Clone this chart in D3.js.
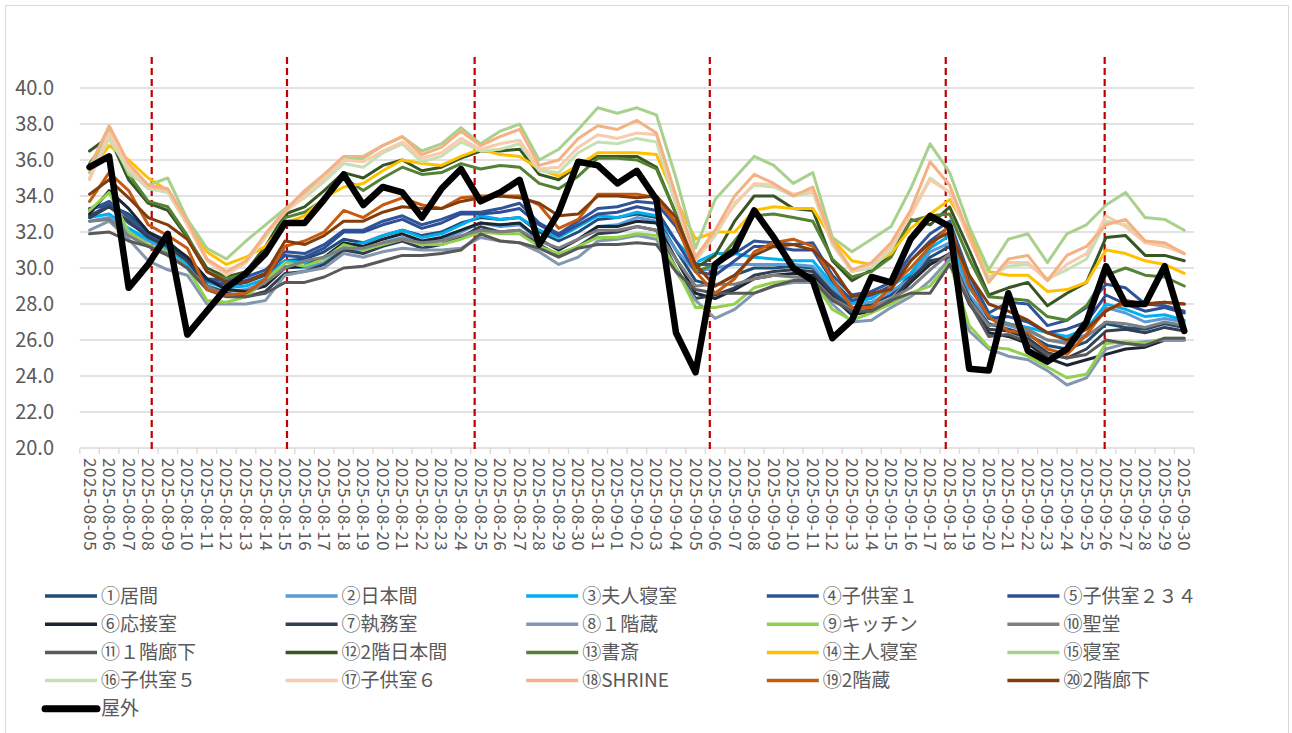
<!DOCTYPE html>
<html>
<head>
<meta charset="utf-8">
<script src="https://cdn.jsdelivr.net/npm/d3@7"></script>
<style>
  body { margin: 0; background: #fff; }
  svg { display: block; font-family: "Noto Sans CJK JP", "Noto Sans", sans-serif; }
</style>
</head>
<body>
<svg id="chart"></svg>
<script>
// categories
const dates = [
  '2025-08-05','2025-08-06','2025-08-07','2025-08-08','2025-08-09','2025-08-10','2025-08-11','2025-08-12',
  '2025-08-13','2025-08-14','2025-08-15','2025-08-16','2025-08-17','2025-08-18','2025-08-19','2025-08-20',
  '2025-08-21','2025-08-22','2025-08-23','2025-08-24','2025-08-25','2025-08-26','2025-08-27','2025-08-28',
  '2025-08-29','2025-08-30','2025-08-31','2025-09-01','2025-09-02','2025-09-03','2025-09-04','2025-09-05',
  '2025-09-06','2025-09-07','2025-09-08','2025-09-09','2025-09-10','2025-09-11','2025-09-12','2025-09-13',
  '2025-09-14','2025-09-15','2025-09-16','2025-09-17','2025-09-18','2025-09-19','2025-09-20','2025-09-21',
  '2025-09-22','2025-09-23','2025-09-24','2025-09-25','2025-09-26','2025-09-27','2025-09-28','2025-09-29',
  '2025-09-30'
];

const seriesNames = [
  '①居間', '②日本間', '③夫人寝室', '④子供室１', '⑤子供室２３４',
  '⑥応接室', '⑦執務室', '⑧１階蔵', '⑨キッチン', '⑩聖堂',
  '⑪１階廊下', '⑫2階日本間', '⑬書斎', '⑭主人寝室', '⑮寝室',
  '⑯子供室５', '⑰子供室６', '⑱SHRINE', '⑲2階蔵', '⑳2階廊下',
  '屋外'
];

// room temperatures (deg C), one value per date
const s01 = [33.3,33.5,33.0,32.0,31.5,30.5,29.3,29.0,29.2,29.6,30.4, 30.5,30.9,31.6,31.4,31.8,32.1,31.8,32.0,32.5,
  32.8,32.7,32.8,32.0,31.5,32.0,32.7,32.8,33.0,32.8, 31.0,29.3,29.0,29.6,30.0,30.0,30.1,30.0,28.8,27.7,
  28.0,28.5,29.6,30.6,31.2,28.3,26.9,26.6,26.3,25.7, 25.5,25.9,26.9,26.7,26.6,26.9,26.7];
const s02 = [32.6,32.8,32.0,31.5,31.0,30.2,29.0,28.7,28.8,29.2,30.1, 30.0,30.3,31.0,31.0,31.4,31.7,31.4,31.6,32.0,
  32.5,32.3,32.4,31.6,31.0,31.6,32.3,32.4,32.8,32.6, 31.0,29.8,30.0,30.2,30.2,30.2,30.2,30.1,28.9,28.0,
  28.1,28.7,29.4,30.9,31.4,28.5,27.2,26.8,26.5,26.0, 25.9,26.3,27.8,27.5,27.0,27.2,27.0];
const s03 = [32.8,33.0,32.2,31.6,31.1,30.2,29.2,28.9,29.0,29.4,30.4, 30.3,30.5,31.2,31.4,31.8,32.1,31.7,31.9,32.4,
  32.9,32.7,32.8,32.1,31.7,32.3,32.9,32.8,33.1,32.9, 31.5,30.3,30.8,30.8,30.6,30.5,30.4,30.4,29.1,28.1,
  28.3,29.0,29.7,31.1,31.8,28.9,27.4,26.9,26.7,26.4, 26.2,26.6,28.0,27.7,27.3,27.4,27.1];
const s04 = [33.2,33.7,32.8,31.9,31.4,30.6,29.4,29.3,29.5,29.9,30.9, 30.8,31.3,32.1,32.1,32.6,32.9,32.4,32.7,33.1,
  33.1,33.3,33.6,32.5,31.9,32.6,33.3,33.4,33.7,33.6, 32.3,30.2,30.2,30.8,31.5,31.4,31.3,31.4,29.6,28.5,
  28.7,29.2,30.7,31.9,32.6,29.6,27.5,28.1,28.0,26.8, 27.1,27.8,29.1,28.9,28.0,27.9,27.6];
const s05 = [32.9,33.5,32.5,31.8,31.3,30.5,29.3,29.1,29.3,29.7,30.7, 30.6,31.1,32.0,32.0,32.4,32.7,32.2,32.5,33.0,
  33.0,33.1,33.3,32.4,31.8,32.4,33.0,33.1,33.4,33.2, 31.5,29.8,29.6,30.4,31.2,31.2,31.0,31.0,29.3,28.2,
  28.5,29.0,30.4,31.5,32.3,29.2,27.2,27.3,27.0,26.4, 26.6,27.0,28.5,28.0,27.6,27.8,27.5];
const s06 = [33.0,34.3,33.3,32.0,31.4,30.6,29.4,28.8,28.7,29.0,30.0, 30.1,30.6,31.4,31.2,31.6,31.9,31.5,31.7,32.1,
  32.5,32.4,32.5,31.6,31.0,31.6,32.3,32.3,32.6,32.5, 30.5,28.6,28.3,28.8,29.4,29.6,29.7,29.6,28.4,27.4,
  27.6,28.1,29.2,30.2,30.8,28.3,26.4,26.2,25.8,25.0, 24.6,24.9,25.2,25.5,25.6,26.0,26.0];
const s07 = [32.8,33.4,32.6,31.7,31.2,30.4,29.0,28.6,28.4,28.7,29.7, 29.8,30.2,31.0,30.8,31.2,31.5,31.1,31.3,31.7,
  32.3,32.0,32.1,31.3,30.7,31.2,31.9,32.0,32.3,32.1, 30.0,28.3,28.5,28.9,29.6,29.8,29.9,29.8,28.6,27.5,
  27.7,28.2,29.4,30.4,30.6,28.0,26.6,26.5,26.1,25.3, 25.0,25.5,26.5,26.6,26.4,26.7,26.5];
const s08 = [32.1,32.6,31.6,30.4,29.9,29.6,28.0,28.0,28.0,28.2,29.6, 29.8,30.0,30.8,30.6,30.9,31.1,31.0,31.0,31.1,
  31.7,31.5,31.4,30.9,30.2,30.6,31.5,31.6,31.8,31.6, 29.8,28.2,27.2,27.7,28.6,29.0,29.2,29.2,28.0,27.0,
  27.1,27.8,28.4,29.3,30.5,26.5,25.5,25.1,24.9,24.3, 23.5,23.9,25.5,25.8,25.9,26.0,26.0];
const s09 = [33.2,34.2,32.0,31.3,30.9,30.0,28.2,28.1,28.4,29.3,30.3, 30.1,30.5,31.3,31.0,31.3,31.6,31.3,31.3,31.6,
  32.0,31.9,31.9,31.2,30.8,31.2,31.7,31.7,31.9,31.8, 30.0,27.8,27.8,28.0,28.9,29.2,29.3,29.3,27.7,27.1,
  27.5,28.0,28.6,29.0,30.3,26.8,25.6,25.5,25.1,24.5, 23.9,24.1,25.8,25.9,25.8,26.1,26.1];
const s10 = [32.6,32.7,31.8,31.2,30.8,30.0,29.0,28.5,28.6,29.2,30.0, 30.4,30.6,31.1,31.1,31.4,31.6,31.4,31.5,31.8,
  32.1,32.0,32.1,31.5,31.1,31.6,32.1,32.1,32.3,32.1, 30.5,29.0,29.1,29.1,29.4,29.6,29.5,29.4,28.3,27.7,
  27.8,28.3,28.9,29.9,30.8,28.2,26.8,26.9,26.6,26.0, 25.8,26.2,27.0,26.9,26.7,27.0,26.8];
const s11 = [31.9,32.0,31.5,31.2,30.7,30.0,28.8,28.4,28.4,28.6,29.2, 29.2,29.5,30.0,30.1,30.4,30.7,30.7,30.8,31.0,
  31.9,31.5,31.4,31.1,30.6,31.1,31.3,31.3,31.4,31.3, 29.8,28.8,28.6,28.6,28.6,29.0,29.3,29.3,28.2,27.6,
  27.6,28.2,28.6,28.6,30.2,28.1,26.2,26.3,25.9,25.2, 25.0,25.2,26.0,25.8,25.7,26.1,26.1];
const s12 = [36.5,37.3,34.9,33.6,33.2,31.7,30.0,29.5,29.8,31.2,33.0, 33.4,34.3,35.3,35.0,35.7,36.0,35.4,35.6,36.1,
  36.5,36.5,36.6,35.2,34.9,35.7,36.2,36.2,36.2,35.6, 33.0,30.0,30.7,32.6,34.0,34.0,33.3,33.2,30.4,29.3,
  29.9,30.7,32.7,32.4,33.4,31.0,28.5,28.9,29.2,27.9, 28.6,29.2,31.7,31.8,30.7,30.7,30.4];
const s13 = [35.8,37.3,35.2,33.7,33.4,31.8,29.8,29.4,29.7,31.0,32.8, 33.1,33.8,35.0,34.3,35.0,35.6,35.2,35.3,35.8,
  35.5,35.7,35.6,34.7,34.4,35.1,36.1,36.1,36.0,35.5, 33.0,29.8,30.2,31.5,32.9,33.0,32.8,32.6,30.5,29.5,
  29.8,30.6,32.6,32.9,33.0,30.5,28.4,28.3,28.2,27.3, 27.1,27.9,29.6,30.0,29.6,29.5,29.0];
const s14 = [35.3,36.8,36.0,35.0,34.3,32.6,30.9,30.2,30.6,31.2,32.5, 32.9,33.9,34.5,34.7,35.4,36.0,35.8,35.7,36.2,
  36.6,36.3,36.2,35.5,35.1,35.7,36.4,36.4,36.4,36.3, 33.8,31.6,32.0,32.0,33.2,33.4,33.3,33.3,31.6,30.4,
  30.2,30.8,32.2,33.0,33.8,32.0,29.8,29.6,29.6,28.7, 28.8,29.2,31.0,30.8,30.4,30.2,29.7];
const s15 = [35.3,37.6,35.2,34.6,35.0,32.7,31.1,30.5,31.5,32.4,33.3, 34.1,35.0,36.0,36.1,36.8,37.3,36.5,36.9,37.8,
  36.9,37.6,38.0,36.0,36.6,37.7,38.9,38.6,38.9,38.5, 35.0,31.1,33.8,35.0,36.2,35.7,34.7,35.3,31.7,30.9,
  31.6,32.3,34.4,36.9,35.3,32.3,29.9,31.6,31.9,30.3, 31.9,32.4,33.5,34.2,32.8,32.7,32.1];
const s16 = [35.0,37.2,35.4,34.4,34.2,32.4,30.5,29.7,30.3,31.7,33.2, 33.9,34.8,35.8,35.6,36.4,36.9,35.9,36.2,37.0,
  36.5,36.6,36.9,35.4,35.3,36.4,37.0,36.9,37.2,37.0, 33.5,30.4,31.8,33.6,34.6,34.5,34.0,34.2,31.3,29.8,
  30.0,31.0,33.0,35.0,34.2,31.7,29.5,30.1,30.2,29.4, 29.9,30.5,32.6,32.4,31.5,31.3,30.8];
const s17 = [34.9,37.5,35.6,34.5,34.3,32.4,30.4,29.6,30.3,31.8,33.1, 34.0,35.0,36.0,35.9,36.5,37.0,36.1,36.4,37.2,
  36.6,36.9,37.1,35.5,35.6,36.7,37.4,37.2,37.5,37.4, 33.8,30.4,32.0,33.5,34.7,34.6,34.1,34.3,31.4,29.8,
  30.2,31.2,32.9,34.9,34.2,31.6,29.3,30.3,30.3,29.3, 30.2,30.8,32.9,32.3,31.4,31.2,30.8];
const s18 = [35.6,37.9,35.8,34.6,34.4,32.6,30.5,29.8,30.4,31.9,33.2, 34.3,35.2,36.2,36.2,36.8,37.3,36.3,36.7,37.6,
  36.8,37.3,37.7,35.7,36.0,37.2,37.9,37.7,38.2,37.5, 34.0,30.6,32.1,34.0,35.2,34.7,34.0,34.5,31.5,29.9,
  30.3,31.4,33.2,35.9,34.6,31.8,29.2,30.5,30.7,29.3, 30.7,31.2,32.4,32.7,31.5,31.4,30.8];
const s19 = [33.7,35.3,34.3,32.4,31.8,31.1,28.8,28.5,28.6,29.4,31.2, 31.5,32.0,33.2,32.8,33.5,33.9,33.5,33.3,33.9,
  34.0,34.0,34.0,33.5,32.2,32.7,34.1,34.1,34.1,33.9, 32.5,29.8,28.6,29.4,30.9,31.4,31.6,31.2,29.4,27.8,
  27.8,29.0,30.0,31.2,32.4,29.0,27.3,26.5,26.4,25.5, 25.2,26.3,27.7,28.0,28.0,28.1,28.0];
const s20 = [34.1,34.9,33.9,32.8,32.4,31.6,29.8,29.2,29.2,29.7,31.5, 31.3,31.8,32.6,32.6,33.1,33.4,33.3,33.3,33.7,
  33.9,34.0,33.9,33.6,32.9,33.0,34.0,34.0,33.9,34.0, 32.8,30.2,29.0,29.6,30.7,31.2,31.3,31.0,30.0,28.4,
  28.6,28.8,30.4,31.4,32.0,29.6,28.0,27.6,27.1,26.4, 26.0,26.6,27.6,28.2,28.0,28.1,28.0];
const outdoor = [35.6,36.2,28.9,30.2,31.9,26.3,27.6,28.9,29.7,30.8,32.5, 32.5,33.8,35.2,33.5,34.5,34.2,32.8,34.4,35.5,
  33.7,34.2,34.9,31.3,33.1,35.9,35.7,34.7,35.4,33.8, 26.4,24.2,30.2,31.0,33.2,31.7,30.0,29.3,26.1,27.1,
  29.5,29.2,31.6,32.9,32.3,24.4,24.3,28.6,25.4,24.8, 25.5,27.0,30.1,28.0,28.0,30.1,26.5];

const yTicks = [20, 22, 24, 26, 28, 30, 32, 34, 36, 38, 40];
// red dashed period markers, as (fractional) category positions
const markerPos = [3.18, 10.1, 19.7, 31.73, 43.8, 51.93];

const seriesValues = [s01, s02, s03, s04, s05, s06, s07, s08, s09, s10,
  s11, s12, s13, s14, s15, s16, s17, s18, s19, s20, outdoor];

const seriesColors = [
  '#1F4E79', '#5B9BD5', '#00B0F0', '#2F5597', '#2E4F96',
  '#1C2533', '#333F50', '#8497B0', '#92D050', '#7F7F7F',
  '#595959', '#375623', '#548235', '#FFC000', '#A9D18E',
  '#C5E0B4', '#F8CBAD', '#F4B183', '#C55A11', '#843C0C',
  '#000000'
];

function drawChart() {
  const width = 1292, height = 733;
  const plot = {l: 79.8, r: 1194, t: 88, b: 448};
  const textColor = '#595959';
  const gridColor = '#D9D9D9';

  const svg = d3.select('#chart')
    .attr('width', width)
    .attr('height', height);

  svg.append('rect')
    .attr('x', 5.5).attr('y', 5.5)
    .attr('width', 1283).attr('height', 740)
    .attr('fill', '#fff')
    .attr('stroke', gridColor);

  const xScale = d3.scalePoint()
    .domain(dates)
    .range([plot.l, plot.r])
    .padding(0.5);
  const step = xScale.step();

  const yScale = d3.scaleLinear()
    .domain([20, 40])
    .range([plot.b, plot.t]);

  // gridlines
  svg.append('g')
    .selectAll('line')
    .data(yTicks)
    .enter()
    .append('line')
    .attr('x1', plot.l).attr('x2', plot.r)
    .attr('y1', d => yScale(d)).attr('y2', d => yScale(d))
    .attr('stroke', gridColor)
    .attr('stroke-width', 1.3);

  // y axis labels
  svg.append('g')
    .selectAll('text')
    .data(yTicks)
    .enter()
    .append('text')
    .attr('x', 54)
    .attr('y', d => yScale(d))
    .attr('dy', '0.35em')
    .attr('text-anchor', 'end')
    .attr('font-size', '20px')
    .attr('fill', textColor)
    .text(d => d3.format('.1f')(d));

  // x axis ticks at category boundaries
  svg.append('g')
    .selectAll('line')
    .data(d3.range(dates.length + 1))
    .enter()
    .append('line')
    .attr('x1', k => xScale(dates[0]) - step / 2 + k * step)
    .attr('x2', k => xScale(dates[0]) - step / 2 + k * step)
    .attr('y1', plot.b).attr('y2', plot.b + 6)
    .attr('stroke', gridColor)
    .attr('stroke-width', 1.3);

  // x labels, rotated
  svg.append('g')
    .selectAll('text')
    .data(dates)
    .enter()
    .append('text')
    .attr('transform', d => 'translate(' + [xScale(d), plot.b + 10] + ') rotate(90)')
    .attr('dy', '0.35em')
    .attr('text-anchor', 'start')
    .attr('font-size', '17px')
    .attr('letter-spacing', '0.6px')
    .attr('fill', textColor)
    .text(d => d);

  // red dashed markers
  svg.append('g')
    .selectAll('line')
    .data(markerPos)
    .enter()
    .append('line')
    .attr('x1', p => xScale(dates[0]) + p * step)
    .attr('x2', p => xScale(dates[0]) + p * step)
    .attr('y1', 57).attr('y2', plot.b + 4)
    .attr('stroke', '#C00000')
    .attr('stroke-width', 2.2)
    .attr('stroke-dasharray', '7,4');

  // series lines
  const line = d3.line()
    .x((v, i) => xScale(dates[i]))
    .y(v => yScale(v));

  svg.append('g')
    .selectAll('path')
    .data(seriesValues)
    .enter()
    .append('path')
    .attr('d', d => line(d))
    .attr('fill', 'none')
    .attr('stroke', (d, i) => seriesColors[i])
    .attr('stroke-width', (d, i) => i === 20 ? 6.5 : 3)
    .attr('stroke-linejoin', 'round')
    .attr('stroke-linecap', 'round');

  // legend
  const legend = svg.append('g');
  const items = legend.selectAll('g')
    .data(seriesNames)
    .enter()
    .append('g')
    .attr('transform', (d, i) => 'translate(' + [45 + (i % 5) * 240.6, 596 + Math.floor(i / 5) * 28.2] + ')');

  items.append('line')
    .attr('x1', 0).attr('x2', 52)
    .attr('y1', 0).attr('y2', 0)
    .attr('stroke', (d, i) => seriesColors[i])
    .attr('stroke-width', (d, i) => i === 20 ? 7 : 3.5)
    .attr('stroke-linecap', (d, i) => i === 20 ? 'round' : 'butt');

  items.append('text')
    .attr('x', 56)
    .attr('y', 0)
    .attr('dy', '0.35em')
    .attr('font-size', '19px')
    .attr('fill', textColor)
    .text(d => d);
}

drawChart();
</script>
</body>
</html>
